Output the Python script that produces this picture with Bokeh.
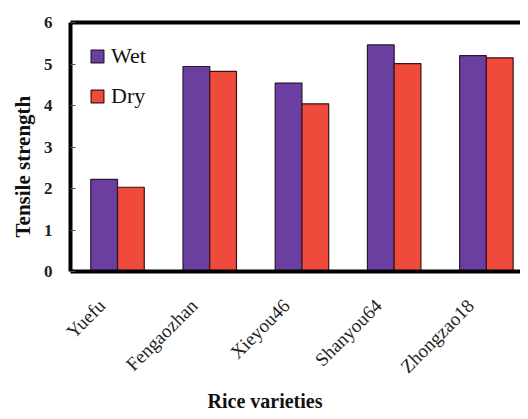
import math
from bokeh.plotting import figure
from bokeh.models import LinearAxis, FixedTicker, Range1d, Title
from bokeh.embed import file_html
from bokeh.resources import INLINE

varieties = ["Yuefu", "Fengaozhan", "Xieyou46", "Shanyou64", "Zhongzao18"]
wet = [2.22, 4.94, 4.54, 5.46, 5.20]
dry = [2.03, 4.82, 4.04, 5.01, 5.15]
y_ticks = [0, 1, 2, 3, 4, 5, 6]

FONT = "Liberation Serif"
PURPLE = "#6a3fa0"
RED = "#ef4a3b"

idx = list(range(len(varieties)))
x_wet = [i - 0.145 for i in idx]
x_dry = [i + 0.145 for i in idx]
label_pos = [i - 0.17 for i in idx]

p = figure(width=520, height=411, output_backend="svg", toolbar_location=None,
           x_range=Range1d(-0.51, 4.37), y_range=Range1d(0, 6),
           min_border_left=70, min_border_right=0, min_border_top=22,
           min_border_bottom=120)
p.outline_line_color = None
p.grid.grid_line_color = None
p.background_fill_color = "white"

p.vbar(x=x_wet, top=wet, width=0.29, fill_color=PURPLE, line_color="#2a1830",
       line_width=1.2, legend_label="Wet")
p.vbar(x=x_dry, top=dry, width=0.29, fill_color=RED, line_color="#3a1410",
       line_width=1.2, legend_label="Dry")

# y axis
ya = p.yaxis[0]
ya.ticker = FixedTicker(ticks=y_ticks)
ya.axis_line_width = 4
ya.axis_line_color = "black"
ya.major_tick_in = 5
ya.major_tick_out = 0
ya.major_tick_line_color = "#555555"
ya.minor_tick_line_color = None
ya.major_label_text_font = FONT
ya.major_label_text_font_size = "17px"
ya.major_label_text_font_style = "bold"
ya.major_label_text_color = "#222222"
ya.major_label_standoff = 18

# x axis
xa = p.xaxis[0]
xa.ticker = FixedTicker(ticks=label_pos)
xa.major_label_overrides = {pos: v for pos, v in zip(label_pos, varieties)}
xa.major_label_orientation = math.pi / 4
xa.axis_line_width = 4
xa.axis_line_color = "black"
xa.major_tick_line_color = None
xa.minor_tick_line_color = None
xa.major_label_text_font = FONT
xa.major_label_text_font_size = "19px"
xa.major_label_text_color = "#222222"
xa.major_label_standoff = 25

# top border as an axis
top = LinearAxis(ticker=FixedTicker(ticks=[]), axis_line_width=4,
                 axis_line_color="black", major_tick_line_color=None,
                 minor_tick_line_color=None, major_label_text_font_size="0px",
                 major_label_standoff=0)
p.add_layout(top, "above")

# axis titles
p.add_layout(Title(text="Rice varieties", align="left", offset=137,
                   text_font=FONT, text_font_size="20px", text_font_style="bold",
                   text_color="#111111", standoff=0), "below")
p.add_layout(Title(text="Tensile strength", align="left", offset=34,
                   text_font=FONT, text_font_size="21px", text_font_style="bold",
                   text_color="#111111", standoff=12), "left")

lg = p.legend[0]
lg.location = "top_left"
lg.border_line_color = None
lg.background_fill_alpha = 0
lg.glyph_width = 16
lg.glyph_height = 16
lg.label_height = 30
lg.spacing = 10
lg.margin = 19
lg.padding = 9
lg.label_text_font = FONT
lg.label_text_font_size = "22px"
lg.label_text_color = "#111111"
lg.label_standoff = 6

open("out.html", "w").write(file_html(p, INLINE))
